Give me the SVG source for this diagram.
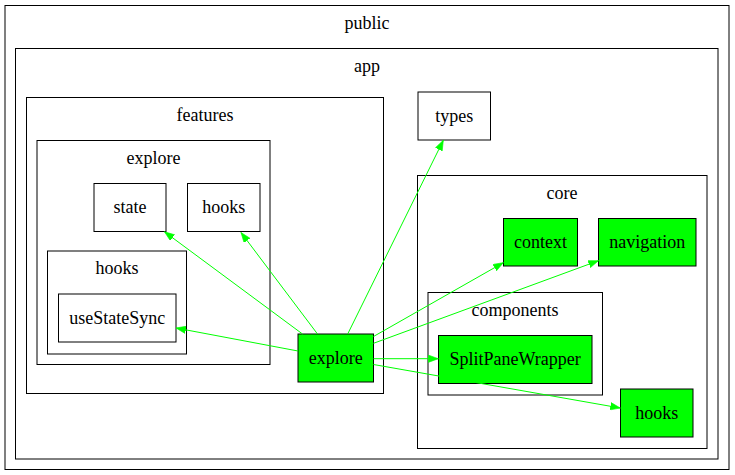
<svg xmlns="http://www.w3.org/2000/svg" width="735" height="475" viewBox="0 0 735 475" font-family="Liberation Serif, DejaVu Serif, serif" font-size="18">
<style>
.cl{fill:none;stroke:#000;stroke-width:1}
.n{fill:#fff;stroke:#000;stroke-width:1}
.g{fill:#00ff00;stroke:#000;stroke-width:1}
text{text-anchor:middle;fill:#000}
.e{stroke:#00ff00;stroke-width:1;fill:none;marker-end:url(#ah)}
</style>
<defs>
<marker id="ah" markerUnits="userSpaceOnUse" markerWidth="11" markerHeight="8" refX="10" refY="4" orient="auto" viewBox="0 0 11 8">
<path d="M0,0.3 L10,4 L0,7.7 z" fill="#00ff00" stroke="#00ff00" stroke-width="0.6"/>
</marker>
</defs>
<rect width="735" height="475" fill="#fff"/>
<g id="cluster_public">
<rect class="cl" x="5" y="5.5" width="724" height="464"/>
<text x="367" y="28.5" font-family="Liberation Serif, serif">public</text>
</g>
<g id="cluster_app">
<rect class="cl" x="15.5" y="48.5" width="702.5" height="410.5"/>
<text x="367" y="72" font-family="Liberation Serif, serif">app</text>
</g>
<g id="cluster_features">
<rect class="cl" x="26.5" y="97.5" width="357" height="296"/>
<text x="205" y="120.5" font-family="Liberation Serif, serif">features</text>
</g>
<g id="cluster_features_explore">
<rect class="cl" x="37" y="140.5" width="233" height="224"/>
<text x="153.5" y="163.5" font-family="Liberation Serif, serif">explore</text>
</g>
<g id="cluster_features_explore_hooks">
<rect class="cl" x="47.5" y="251" width="139" height="103"/>
<text x="117" y="274" font-family="Liberation Serif, serif">hooks</text>
</g>
<g id="cluster_core">
<rect class="cl" x="417.5" y="175.5" width="289.5" height="273"/>
<text x="562" y="198.5" font-family="Liberation Serif, serif">core</text>
</g>
<g id="cluster_core_components">
<rect class="cl" x="428" y="292.5" width="174.5" height="102.5"/>
<text x="515" y="315.5" font-family="Liberation Serif, serif">components</text>
</g>
<g id="node_state">
<rect class="n" x="94" y="183.5" width="72" height="48"/>
<text x="130" y="213" font-family="Liberation Serif, serif">state</text>
</g>
<g id="node_features_hooks">
<rect class="n" x="187.5" y="183.5" width="72.5" height="48"/>
<text x="223.7" y="213" font-family="Liberation Serif, serif">hooks</text>
</g>
<g id="node_useStateSync">
<rect class="n" x="58.5" y="294" width="117.5" height="48"/>
<text x="117.2" y="323.6" font-family="Liberation Serif, serif">useStateSync</text>
</g>
<g id="node_types">
<rect class="n" x="418" y="92" width="72.5" height="48"/>
<text x="454.2" y="121.6" font-family="Liberation Serif, serif">types</text>
</g>
<g id="node_context">
<rect class="g" x="503.5" y="218.5" width="74" height="47.5"/>
<text x="540.5" y="247.8" font-family="Liberation Serif, serif">context</text>
</g>
<g id="node_navigation">
<rect class="g" x="598.5" y="218.5" width="97.5" height="47.5"/>
<text x="647.2" y="247.8" font-family="Liberation Serif, serif">navigation</text>
</g>
<g id="node_SplitPaneWrapper">
<rect class="g" x="438.5" y="335.5" width="153.5" height="48"/>
<text x="515.2" y="365" font-family="Liberation Serif, serif">SplitPaneWrapper</text>
</g>
<g id="node_core_hooks">
<rect class="g" x="620.5" y="389" width="72.5" height="48"/>
<text x="656.7" y="418.6" font-family="Liberation Serif, serif">hooks</text>
</g>
<g id="node_explore">
<rect class="g" x="298" y="334" width="75.5" height="48"/>
<text x="335.7" y="363.6" font-family="Liberation Serif, serif">explore</text>
</g>
<g id="edges">
<path class="e" d="M347.7,334 L443.3,140.3"/>
<path class="e" d="M302.5,334 L164.5,231.8"/>
<path class="e" d="M317.5,334 L241,232.5"/>
<path class="e" d="M298,351 L176,328"/>
<path class="e" d="M373.5,336.5 L503.3,262.7"/>
<path class="e" d="M373.5,343.3 L598.5,260.7"/>
<path class="e" d="M373.5,358.7 L438.3,358.7"/>
<path class="e" d="M373.5,364.5 L620.3,408"/>
</g>
</svg>
